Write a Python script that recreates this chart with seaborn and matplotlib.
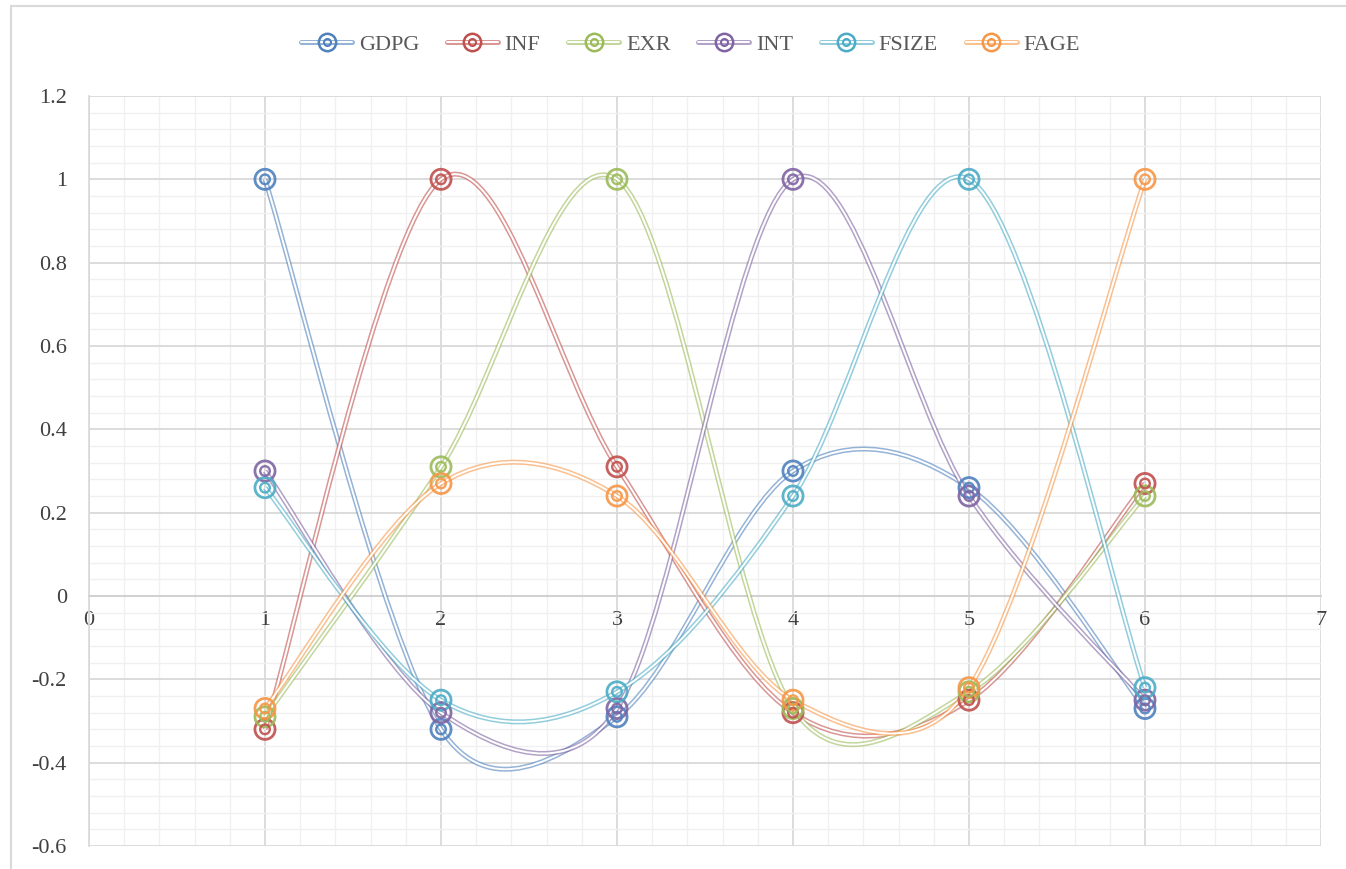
import numpy as np
import pandas as pd
import matplotlib
matplotlib.use("Agg")
import matplotlib.pyplot as plt
import matplotlib.patheffects as pe
from matplotlib.path import Path
from matplotlib.patches import PathPatch, Rectangle
from matplotlib.lines import Line2D
from matplotlib.legend_handler import HandlerTuple
from matplotlib.ticker import MultipleLocator, FuncFormatter
import seaborn as sns

# Correlation values (x = variable index 1..6)
positions = [1, 2, 3, 4, 5, 6]
series_names = ["GDPG", "INF", "EXR", "INT", "FSIZE", "FAGE"]
gdpg = [1.00, -0.32, -0.29, 0.30, 0.26, -0.27]
inf = [-0.32, 1.00, 0.31, -0.28, -0.25, 0.27]
exr = [-0.29, 0.31, 1.00, -0.27, -0.23, 0.24]
int_rate = [0.30, -0.28, -0.27, 1.00, 0.24, -0.25]
fsize = [0.26, -0.25, -0.23, 0.24, 1.00, -0.22]
fage = [-0.27, 0.27, 0.24, -0.25, -0.22, 1.00]

colors = ["#4F81BD", "#C0504D", "#9BBB59", "#8064A2", "#4BACC6", "#F79646"]

values = dict(zip(series_names, [gdpg, inf, exr, int_rate, fsize, fage]))
df = pd.DataFrame([(n, x, v) for n in series_names for x, v in zip(positions, values[n])],
                  columns=["series", "x", "value"])
palette = dict(zip(series_names, colors))

sns.set_theme(style="white")
plt.rcParams["font.family"] = ["Liberation Serif", "DejaVu Serif"]

fig = plt.figure(figsize=(13.46, 8.69), dpi=100)
ax = fig.add_axes([89 / 1346, 23 / 869, (1321 - 89) / 1346, (846 - 96) / 869])
ax.set_xlim(0, 7)
ax.set_ylim(-0.6, 1.2)

# chart area border (only left and top edges fall inside the image)
fig.patches.append(Rectangle((11 / 1346, -0.05), 1.2, 1.05 - 6 / 869,
                             transform=fig.transFigure, fill=False,
                             edgecolor="#D9D9D9", lw=1.5))


def smooth_path(xs, ys):
    # Excel-like smoothed line: cubic Bezier, tangents 1/6 of the chord,
    # capped at half the segment length (computed in screen space)
    pts = ax.transData.transform(np.column_stack([xs, ys]).astype(float))
    n = len(pts)
    verts = [pts[0]]
    codes = [Path.MOVETO]
    for i in range(n - 1):
        p0 = pts[i - 1] if i > 0 else pts[i]
        p1, p2 = pts[i], pts[i + 1]
        p3 = pts[i + 2] if i + 2 < n else pts[i + 1]
        d12 = np.hypot(*(p2 - p1))
        t1 = p2 - p0
        t2 = p3 - p1
        l1 = np.hypot(*t1)
        l2 = np.hypot(*t2)
        c1 = p1 + (t1 / l1 * min(l1 / 6, d12 / 2) if l1 > 0 else 0)
        c2 = p2 - (t2 / l2 * min(l2 / 6, d12 / 2) if l2 > 0 else 0)
        verts += [c1, c2, p2]
        codes += [Path.CURVE4] * 3
    verts = ax.transData.inverted().transform(np.array(verts))
    return Path(verts, codes)


def double_line(color):
    return [pe.Stroke(linewidth=3.6, foreground=color, alpha=0.6),
            pe.Stroke(linewidth=1.4, foreground="white")]


for name in series_names:
    sub = df[df.series == name]
    patch = PathPatch(smooth_path(sub.x.values, sub.value.values), facecolor="none",
                      edgecolor="none", lw=0, zorder=3)
    patch.set_path_effects(double_line(palette[name]))
    ax.add_patch(patch)

# double-ring markers
sns.scatterplot(data=df, x="x", y="value", hue="series", palette=palette, s=210,
                linewidth=2.0, marker="o", legend=False, ax=ax, zorder=4, alpha=0.9)
coll = ax.collections[-1]
coll.set_facecolor("none")
coll.set_edgecolor([palette[s] for s in df.series])
sns.scatterplot(data=df, x="x", y="value", hue="series", palette=palette, s=48,
                linewidth=1.7, marker="o", legend=False, ax=ax, zorder=4, alpha=0.9)
coll = ax.collections[-1]
coll.set_facecolor("none")
coll.set_edgecolor([palette[s] for s in df.series])

ax.set_xlim(0, 7)
ax.set_ylim(-0.6, 1.2)
ax.xaxis.set_major_locator(MultipleLocator(1))
ax.xaxis.set_minor_locator(MultipleLocator(0.2))
ax.yaxis.set_major_locator(MultipleLocator(0.2))
ax.yaxis.set_minor_locator(MultipleLocator(0.04))
fmt = FuncFormatter(lambda v, p: "{:g}".format(round(v, 2)))
ax.xaxis.set_major_formatter(fmt)
ax.yaxis.set_major_formatter(fmt)
ax.grid(which="major", color="#D9D9D9", lw=1.3, zorder=0)
ax.grid(which="minor", color="#F0F0F0", lw=1.0, zorder=0)
ax.set_axisbelow(True)

ax.spines["bottom"].set_position(("data", 0))
ax.spines["bottom"].set_color("#D0D0D0")
ax.spines["left"].set_color("#D9D9D9")
ax.spines["top"].set_visible(False)
ax.spines["right"].set_visible(False)
ax.tick_params(axis="both", which="both", length=0, labelsize=16, colors="#404040")
ax.tick_params(axis="x", pad=11)
ax.tick_params(axis="y", pad=16)
ax.set_xlabel("")
ax.set_ylabel("")

handles = []
for name in series_names:
    c = palette[name]
    ln = Line2D([], [], color=c, lw=0.01, path_effects=double_line(c))
    outer = Line2D([], [], ls="none", marker="o", ms=12.5, mfc="none", mec=c, mew=1.8)
    inner = Line2D([], [], ls="none", marker="o", ms=5, mfc="none", mec=c, mew=1.5)
    handles.append((ln, outer, inner))

fig.legend(handles, series_names, loc="center", bbox_to_anchor=(0.513, 0.949),
           ncol=6, frameon=False, fontsize=16, handlelength=2.3, columnspacing=1.25,
           handletextpad=0.3, labelcolor="#595959",
           handler_map={tuple: HandlerTuple(ndivide=1, pad=0)})

fig.savefig("out.png", dpi=100)
